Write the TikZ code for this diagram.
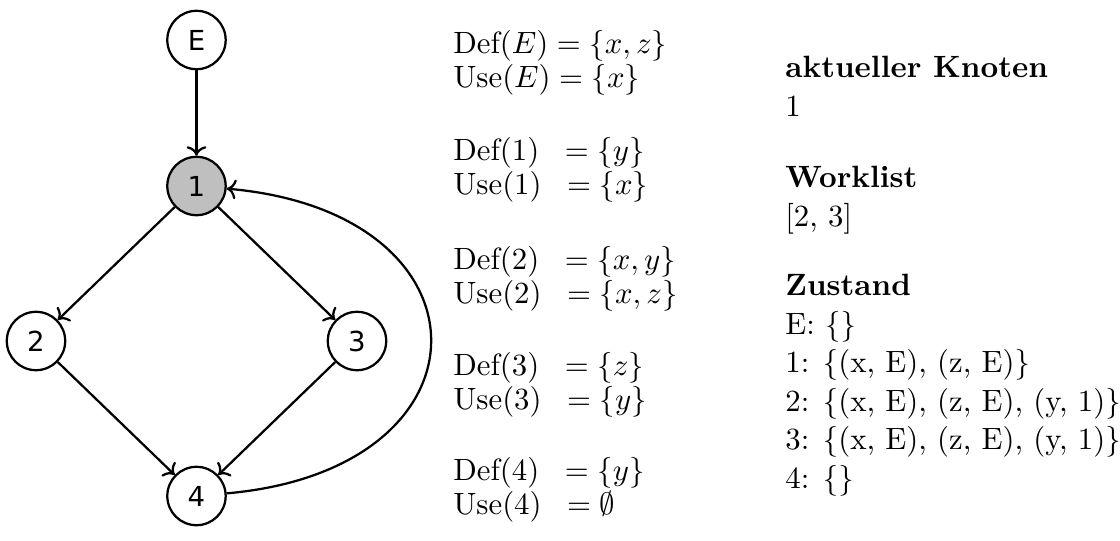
\documentclass[11pt,tikz,border=0pt]{standalone}
\usepackage{fontspec}
\newfontfamily\knotfont{DejaVu Sans}
\usetikzlibrary{arrows.meta, positioning}

\begin{document}
\begin{tikzpicture}[
  knot/.style={circle, draw, thick, minimum size=0.73cm, inner sep=0pt, font=\knotfont\fontsize{9.8}{12}\selectfont},
  edge/.style={->, thick},
  setbox/.style={anchor=north west, inner sep=0pt, align=left, font=\fontsize{10.95}{12.1}\selectfont},
  infobox/.style={anchor=north west, inner sep=0pt, align=left, font=\fontsize{10.95}{13.7}\selectfont}
]
\useasboundingbox (0,0) rectangle (14,-6.75);

% Kontrollflussgraph
\node[knot] (nE) at (2.456,-0.5) {E};
\node[knot, fill=black!25] (n1) at (2.456,-2.325) {1};
\node[knot] (n2) at (0.45,-4.2625) {2};
\node[knot] (n3) at (4.4625,-4.2625) {3};
\node[knot] (n4) at (2.456,-6.2) {4};

\draw[edge] (nE) -- (n1);
\draw[edge] (n1) -- (n2);
\draw[edge] (n1) -- (n3);
\draw[edge] (n2) -- (n4);
\draw[edge] (n3) -- (n4);
\draw[edge] (n4) to[out=5, in=-5, looseness=2.3] (n1);

% Def/Use-Mengen
\node[setbox] (duE) at (5.66,-0.374) {$\mathrm{Def}(E) = \{x, z\}$\\ $\mathrm{Use}(E) = \{x\}$};
\node[setbox] (du1) at (5.66,-1.711) {$\mathrm{Def}(1)\;\;= \{y\}$\\ $\mathrm{Use}(1)\;\;= \{x\}$};
\node[setbox] (du2) at (5.66,-3.07) {$\mathrm{Def}(2)\;\;= \{x, y\}$\\ $\mathrm{Use}(2)\;\;= \{x, z\}$};
\node[setbox] (du3) at (5.66,-4.399) {$\mathrm{Def}(3)\;\;= \{z\}$\\ $\mathrm{Use}(3)\;\;= \{y\}$};
\node[setbox] (du4) at (5.66,-5.711) {$\mathrm{Def}(4)\;\;= \{y\}$\\ $\mathrm{Use}(4)\;\;= \emptyset$};

% Zustand der Analyse
\node[infobox] (cur) at (9.81,-0.695) {\textbf{aktueller Knoten}\\ 1};
\node[infobox] (work) at (9.81,-2.07) {\textbf{Worklist}\\ {[2, 3]}};
\node[infobox] (state) at (9.81,-3.42) {\textbf{Zustand}\\
  E: \{\}\\
  1: \{(x, E), (z, E)\}\\
  2: \{(x, E), (z, E), (y, 1)\}\\
  3: \{(x, E), (z, E), (y, 1)\}\\
  4: \{\}};
\end{tikzpicture}
\end{document}
